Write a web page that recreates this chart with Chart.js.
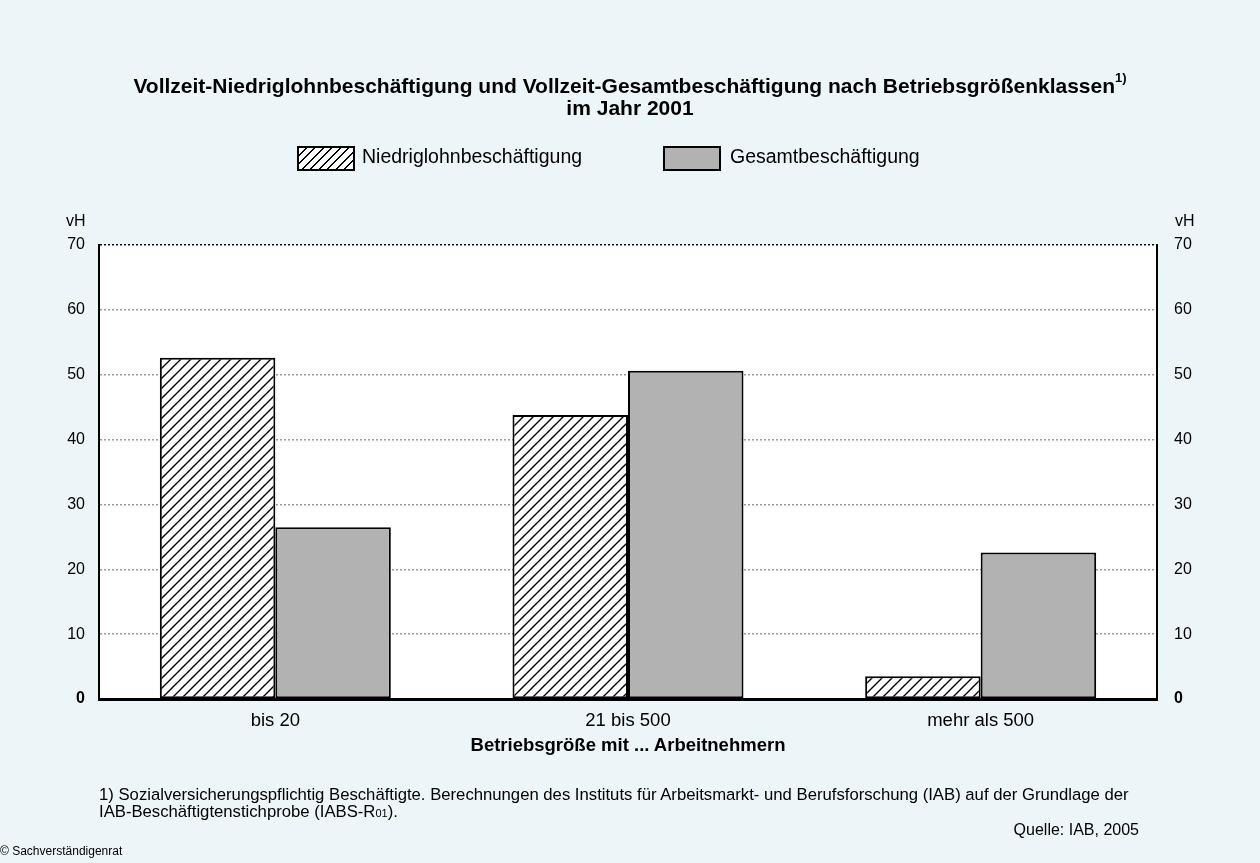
<!DOCTYPE html>
<html><head><meta charset="utf-8">
<script src="https://cdn.jsdelivr.net/npm/chart.js@4/dist/chart.umd.min.js"></script>
<style>
html,body{margin:0;padding:0;background:#ecf5f8;}
body{width:1260px;height:863px;position:relative;overflow:hidden;font-family:"Liberation Sans",Arial,sans-serif;color:#000;}
#wrap{position:absolute;left:0;top:0;width:1260px;height:863px;}
.t{position:absolute;white-space:nowrap;}
</style></head>
<body>
<div id="wrap"><canvas id="c" width="1260" height="863"></canvas></div>
<div class="t" style="left:0;width:1260px;top:75px;text-align:center;font-weight:bold;font-size:21px;line-height:21.5px;">Vollzeit-Niedriglohnbeschäftigung und Vollzeit-Gesamtbeschäftigung nach Betriebsgrößenklassen<sup style="font-size:13px;position:relative;top:-4px;vertical-align:top;line-height:13px;">1)</sup><br>im Jahr 2001</div>
<div class="t" style="left:297px;top:146px;width:54px;height:21px;border:2px solid #000;background:repeating-linear-gradient(135deg,#fff 0 4.5px,#000 4.5px 6px);"></div>
<div class="t" style="left:362px;top:145px;font-size:19.5px;">Niedriglohnbeschäftigung</div>
<div class="t" style="left:663px;top:146px;width:54px;height:21px;border:2px solid #000;background:#b2b2b2;"></div>
<div class="t" style="left:730px;top:145px;font-size:19.5px;">Gesamtbeschäftigung</div>
<div class="t" style="left:66px;top:212px;font-size:16px;">vH</div>
<div class="t" style="left:1175px;top:212px;font-size:16px;">vH</div>
<div class="t" style="left:99px;width:1058px;top:734px;text-align:center;font-weight:bold;font-size:18.5px;">Betriebsgröße mit ... Arbeitnehmern</div>
<div class="t" style="left:99px;top:787px;font-size:16.7px;line-height:16.5px;">1) Sozialversicherungspflichtig Beschäftigte. Berechnungen des Instituts für Arbeitsmarkt- und Berufsforschung (IAB) auf der Grundlage der<br>IAB-Beschäftigtenstichprobe (IABS-R<span style="font-size:11px;">01</span>).</div>
<div class="t" style="right:121px;top:821px;font-size:16px;">Quelle: IAB, 2005</div>
<div class="t" style="left:0;top:844px;font-size:12px;">© Sachverständigenrat</div>
<script>
const categories = ["bis 20", "21 bis 500", "mehr als 500"];
const niedriglohn = [52.6, 43.8, 3.5];
const gesamt = [26.5, 50.6, 22.6];
const yTicks = [0, 10, 20, 30, 40, 50, 60, 70];

function hatch(){
  const s = 10, p = document.createElement('canvas');
  p.width = s; p.height = s;
  const g = p.getContext('2d');
  g.fillStyle = '#fff'; g.fillRect(0,0,s,s);
  g.strokeStyle = '#000'; g.lineWidth = 1.4;
  g.beginPath();
  g.moveTo(-1, s+1); g.lineTo(s+1, -1);
  g.moveTo(-1, 1); g.lineTo(1, -1);
  g.moveTo(s-1, s+1); g.lineTo(s+1, s-1);
  g.stroke();
  return g.createPattern(p, 'repeat');
}

const bg = {id:'bg', beforeDraw(chart){
  const {ctx, chartArea:a} = chart;
  ctx.save(); ctx.fillStyle = '#fff';
  ctx.fillRect(a.left, a.top, a.right-a.left, a.bottom-a.top); ctx.restore();
}};

const tickFont = c => ({family:'"Liberation Sans", Arial, sans-serif', size:16, weight: (c.tick && c.tick.value === 0) ? 'bold' : 'normal'});

new Chart(document.getElementById('c'), {
  type:'bar',
  data:{labels:categories, datasets:[
    {label:'Niedriglohnbeschäftigung', data:niedriglohn, backgroundColor:hatch(), borderColor:'#000', borderWidth:2, borderSkipped:false},
    {label:'Gesamtbeschäftigung', data:gesamt, backgroundColor:'#b2b2b2', borderColor:'#000', borderWidth:2, borderSkipped:false}
  ]},
  options:{
    responsive:false, animation:false,
    layout:{padding:{top:245, left:0, right:0, bottom:0}},
    plugins:{legend:{display:false}, tooltip:{enabled:false}},
    datasets:{bar:{categoryPercentage:0.655, barPercentage:1}},
    scales:{
      x:{
        grid:{display:false},
        border:{display:true, color:'#000', width:3, z:2},
        ticks:{color:'#000', font:{family:'"Liberation Sans", Arial, sans-serif', size:18.5}, padding:3},
        afterFit(s){ s.height = 164; }
      },
      y:{
        position:'left', min:0, max:70,
        afterBuildTicks(s){ s.ticks = yTicks.map(v=>({value:v})); },
        grid:{drawTicks:false, lineWidth:1.5, color:c => c.tick && c.tick.value === 70 ? '#000' : '#9a9a9a'},
        border:{display:true, color:'#000', width:2, dash:[2,2], z:2},
        ticks:{color:'#000', font:tickFont, padding:14},
        afterFit(s){ s.width = 99; }
      },
      y2:{
        position:'right', min:0, max:70,
        afterBuildTicks(s){ s.ticks = yTicks.map(v=>({value:v})); },
        grid:{display:false, drawTicks:false},
        border:{display:true, color:'#000', width:2, z:2},
        ticks:{color:'#000', font:tickFont, padding:17},
        afterFit(s){ s.width = 103; }
      }
    }
  },
  plugins:[bg]
});
</script>
</body></html>
